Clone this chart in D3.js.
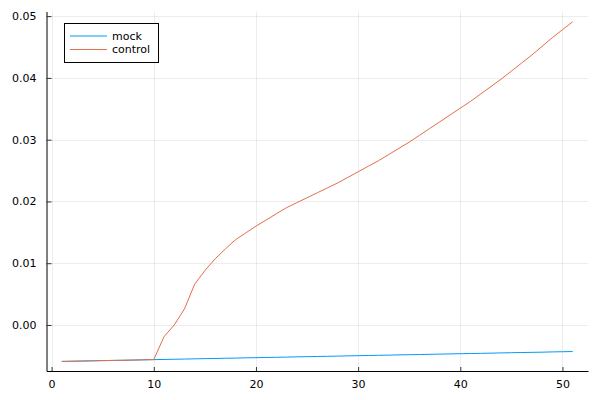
<!DOCTYPE html>
<meta charset="utf-8">
<html lang="en">
<head>
<script src="https://d3js.org/d3.v7.min.js"></script>
<style>
  body { margin: 0; background: #fff; }
  svg { display: block; font-family: "DejaVu Sans", sans-serif; }
</style>
</head>
<body>
<svg></svg>
<script>
// data
var steps = d3.range(1, 52);
var mock = [-0.00590, -0.00587, -0.00584, -0.00580, -0.00577, -0.00574, -0.00571, -0.00568, -0.00564, -0.00561,
            -0.00558, -0.00555, -0.00552, -0.00548, -0.00545, -0.00542, -0.00539, -0.00536, -0.00532, -0.00529,
            -0.00526, -0.00523, -0.00520, -0.00516, -0.00513, -0.00510, -0.00507, -0.00504, -0.00500, -0.00497,
            -0.00494, -0.00491, -0.00488, -0.00484, -0.00481, -0.00478, -0.00475, -0.00472, -0.00468, -0.00465,
            -0.00462, -0.00459, -0.00456, -0.00452, -0.00449, -0.00446, -0.00443, -0.00440, -0.00436, -0.00433,
            -0.00430];
var control = [-0.00590, -0.00587, -0.00584, -0.00580, -0.00577, -0.00574, -0.00571, -0.00568, -0.00564, -0.00561,
               -0.0019, 0.0000, 0.0026, 0.0066, 0.0088, 0.0107, 0.0123, 0.0138, 0.0149, 0.0160,
               0.0170, 0.0180, 0.0190, 0.0198, 0.0206, 0.0214, 0.0222, 0.0230, 0.0239, 0.0248,
               0.0257, 0.0266, 0.0276, 0.0286, 0.0296, 0.0307, 0.0318, 0.0329, 0.0340, 0.0351,
               0.0362, 0.0374, 0.0386, 0.0398, 0.0411, 0.0424, 0.0437, 0.0451, 0.0465, 0.0478,
               0.0491];
var seriesNames = ["mock", "control"];
var xTicks = [0, 10, 20, 30, 40, 50];
var yTicks = [0.00, 0.01, 0.02, 0.03, 0.04, 0.05];

let width = 600, height = 400;
let mLeft = 46.5, mRight = 588, mTop = 11.5, mBottom = 371;
var colors = ["#009af9", "#e26f46"];

let svg = d3.select("svg").attr("width", width).attr("height", height);

var x = d3.scaleLinear().domain([-0.5, 52.5]).range([mLeft, mRight]);
var y = d3.scaleLinear().domain([-0.00745, 0.05075]).range([mBottom, mTop]);

// grid
svg.append("g").selectAll("line").data(xTicks).enter().append("line")
    .attr("x1", d => Math.round(x(d)) + 0.5).attr("x2", d => Math.round(x(d)) + 0.5)
    .attr("y1", mTop).attr("y2", mBottom)
    .attr("stroke", "#000").attr("stroke-opacity", 0.07);
svg.append("g").selectAll("line").data(yTicks).enter().append("line")
    .attr("y1", d => Math.round(y(d)) + 0.5).attr("y2", d => Math.round(y(d)) + 0.5)
    .attr("x1", mLeft).attr("x2", mRight)
    .attr("stroke", "#000").attr("stroke-opacity", 0.07);

// axes
var xAxis = svg.append("g").attr("transform", "translate(0," + mBottom + ")")
    .call(d3.axisBottom(x).tickValues(xTicks).tickSizeInner(-4).tickSizeOuter(0).tickPadding(9));
var yAxis = svg.append("g").attr("transform", "translate(" + mLeft + ",0)")
    .call(d3.axisLeft(y).tickValues(yTicks).tickFormat(d3.format(".2f")).tickSizeInner(-5).tickSizeOuter(0).tickPadding(10));
[xAxis, yAxis].forEach(function(a) {
    a.select(".domain").attr("stroke", "#000").attr("stroke-width", 1);
    a.selectAll(".tick line").attr("stroke", "#333");
    a.selectAll("text").attr("font-size", 11).attr("fill", "#000")
        .attr("font-family", "DejaVu Sans, sans-serif");
});

// lines
var line = d3.line().x((d, i) => x(steps[i])).y(d => y(d));
[mock, control].forEach(function(s, k) {
    svg.append("path").datum(s)
        .attr("d", line)
        .attr("fill", "none")
        .attr("stroke", colors[k])
        .attr("stroke-width", 1);
});

// legend
var lg = svg.append("g");
lg.append("rect").attr("x", 64.5).attr("y", 23.5).attr("width", 94).attr("height", 39)
    .attr("fill", "#fff").attr("stroke", "#000").attr("stroke-width", 1);
seriesNames.forEach(function(n, k) {
    var ly = 36 + k * 13.5;
    lg.append("line").attr("x1", 70).attr("x2", 107).attr("y1", ly).attr("y2", ly)
        .attr("stroke", colors[k]).attr("stroke-width", 1);
    lg.append("text").attr("x", 112).attr("y", ly).attr("dy", "0.35em")
        .attr("font-size", 11).text(n);
});
</script>
</body>
</html>
